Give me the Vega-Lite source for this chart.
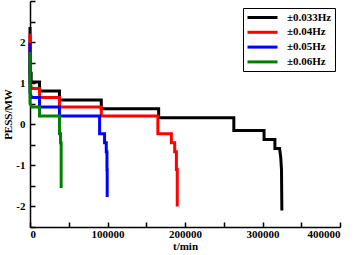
{
  "$schema": "https://vega.github.io/schema/vega-lite/v6.json",
  "width": 310,
  "height": 226,
  "autosize": "none",
  "padding": {"left": 30, "top": 1, "right": 18, "bottom": 28},
  "background": "white",
  "config": {
    "view": {"stroke": null},
    "font": "Liberation Serif",
    "axis": {
      "domainColor": "black", "tickColor": "black", "labelColor": "black", "titleColor": "black",
      "labelFont": "Liberation Serif", "titleFont": "Liberation Serif",
      "labelFontSize": 11, "labelFontWeight": "bold", "titleFontSize": 11, "titleFontWeight": "bold",
      "grid": false, "tickSize": -5, "domainWidth": 1.5, "tickWidth": 1.5
    }
  },
  "data": {"values": [
    {"s": "±0.033Hz", "i": 1, "x": 0, "y": 2.37},
    {"s": "±0.033Hz", "i": 2, "x": 0, "y": 1.24},
    {"s": "±0.033Hz", "i": 3, "x": 1500, "y": 1.24},
    {"s": "±0.033Hz", "i": 4, "x": 1500, "y": 1.03},
    {"s": "±0.033Hz", "i": 5, "x": 12300, "y": 1.03},
    {"s": "±0.033Hz", "i": 6, "x": 12300, "y": 0.81},
    {"s": "±0.033Hz", "i": 7, "x": 38000, "y": 0.81},
    {"s": "±0.033Hz", "i": 8, "x": 38000, "y": 0.59},
    {"s": "±0.033Hz", "i": 9, "x": 92000, "y": 0.59},
    {"s": "±0.033Hz", "i": 10, "x": 92000, "y": 0.38},
    {"s": "±0.033Hz", "i": 11, "x": 166000, "y": 0.38},
    {"s": "±0.033Hz", "i": 12, "x": 166000, "y": 0.16},
    {"s": "±0.033Hz", "i": 13, "x": 263000, "y": 0.16},
    {"s": "±0.033Hz", "i": 14, "x": 263000, "y": -0.15},
    {"s": "±0.033Hz", "i": 15, "x": 302000, "y": -0.15},
    {"s": "±0.033Hz", "i": 16, "x": 302000, "y": -0.37},
    {"s": "±0.033Hz", "i": 17, "x": 316000, "y": -0.37},
    {"s": "±0.033Hz", "i": 18, "x": 316000, "y": -0.59},
    {"s": "±0.033Hz", "i": 19, "x": 322000, "y": -0.59},
    {"s": "±0.033Hz", "i": 20, "x": 323500, "y": -0.8},
    {"s": "±0.033Hz", "i": 21, "x": 324500, "y": -1.1},
    {"s": "±0.033Hz", "i": 22, "x": 325000, "y": -2.1},
    {"s": "±0.04Hz", "i": 1, "x": 0, "y": 2.21},
    {"s": "±0.04Hz", "i": 2, "x": 0, "y": 1.0},
    {"s": "±0.04Hz", "i": 3, "x": 2400, "y": 0.87},
    {"s": "±0.04Hz", "i": 4, "x": 12300, "y": 0.87},
    {"s": "±0.04Hz", "i": 5, "x": 12300, "y": 0.65},
    {"s": "±0.04Hz", "i": 6, "x": 38000, "y": 0.65},
    {"s": "±0.04Hz", "i": 7, "x": 38000, "y": 0.42},
    {"s": "±0.04Hz", "i": 8, "x": 92000, "y": 0.42},
    {"s": "±0.04Hz", "i": 9, "x": 92000, "y": 0.2},
    {"s": "±0.04Hz", "i": 10, "x": 165000, "y": 0.2},
    {"s": "±0.04Hz", "i": 11, "x": 165000, "y": -0.23},
    {"s": "±0.04Hz", "i": 12, "x": 182400, "y": -0.23},
    {"s": "±0.04Hz", "i": 13, "x": 182400, "y": -0.45},
    {"s": "±0.04Hz", "i": 14, "x": 186700, "y": -0.45},
    {"s": "±0.04Hz", "i": 15, "x": 186700, "y": -0.67},
    {"s": "±0.04Hz", "i": 16, "x": 188900, "y": -0.67},
    {"s": "±0.04Hz", "i": 17, "x": 188900, "y": -1.1},
    {"s": "±0.04Hz", "i": 18, "x": 190000, "y": -1.1},
    {"s": "±0.04Hz", "i": 19, "x": 190000, "y": -2.0},
    {"s": "±0.05Hz", "i": 1, "x": 0, "y": 1.98},
    {"s": "±0.05Hz", "i": 2, "x": 0, "y": 0.75},
    {"s": "±0.05Hz", "i": 3, "x": 2400, "y": 0.65},
    {"s": "±0.05Hz", "i": 4, "x": 12300, "y": 0.65},
    {"s": "±0.05Hz", "i": 5, "x": 12300, "y": 0.42},
    {"s": "±0.05Hz", "i": 6, "x": 38000, "y": 0.42},
    {"s": "±0.05Hz", "i": 7, "x": 38000, "y": 0.2},
    {"s": "±0.05Hz", "i": 8, "x": 89800, "y": 0.2},
    {"s": "±0.05Hz", "i": 9, "x": 89800, "y": -0.23},
    {"s": "±0.05Hz", "i": 10, "x": 96200, "y": -0.23},
    {"s": "±0.05Hz", "i": 11, "x": 96200, "y": -0.45},
    {"s": "±0.05Hz", "i": 12, "x": 98400, "y": -0.45},
    {"s": "±0.05Hz", "i": 13, "x": 98400, "y": -0.67},
    {"s": "±0.05Hz", "i": 14, "x": 99300, "y": -0.67},
    {"s": "±0.05Hz", "i": 15, "x": 99300, "y": -1.1},
    {"s": "±0.05Hz", "i": 16, "x": 99600, "y": -1.1},
    {"s": "±0.05Hz", "i": 17, "x": 99600, "y": -1.77},
    {"s": "±0.06Hz", "i": 1, "x": 0, "y": 1.76},
    {"s": "±0.06Hz", "i": 2, "x": 0, "y": 0.5},
    {"s": "±0.06Hz", "i": 3, "x": 2400, "y": 0.42},
    {"s": "±0.06Hz", "i": 4, "x": 12300, "y": 0.42},
    {"s": "±0.06Hz", "i": 5, "x": 12300, "y": 0.2},
    {"s": "±0.06Hz", "i": 6, "x": 38000, "y": 0.2},
    {"s": "±0.06Hz", "i": 7, "x": 38000, "y": -0.23},
    {"s": "±0.06Hz", "i": 8, "x": 39400, "y": -0.23},
    {"s": "±0.06Hz", "i": 9, "x": 39400, "y": -0.45},
    {"s": "±0.06Hz", "i": 10, "x": 40200, "y": -0.45},
    {"s": "±0.06Hz", "i": 11, "x": 40200, "y": -1.55}
  ]},
  "mark": {"type": "line", "strokeWidth": 3, "strokeJoin": "miter"},
  "encoding": {
    "x": {
      "field": "x", "type": "quantitative",
      "scale": {"domain": [0, 400000], "nice": false},
      "axis": {
        "title": "t/min",
        "values": [0, 50000, 100000, 150000, 200000, 250000, 300000, 350000, 400000],
        "labelExpr": "datum.value % 100000 === 0 ? '' + datum.value : ''",
        "labelPadding": 6, "titlePadding": 1
      }
    },
    "y": {
      "field": "y", "type": "quantitative",
      "scale": {"domain": [-2.5, 3], "nice": false, "zero": false},
      "axis": {
        "title": "PESS/MW",
        "values": [-2.5, -2, -1.5, -1, -0.5, 0, 0.5, 1, 1.5, 2, 2.5, 3],
        "labelExpr": "(datum.value % 1 === 0 && datum.value < 3) ? '' + datum.value : ''",
        "labelPadding": 10, "titlePadding": 2
      }
    },
    "color": {
      "field": "s", "type": "nominal",
      "scale": {"domain": ["±0.033Hz", "±0.04Hz", "±0.05Hz", "±0.06Hz"], "range": ["#000000", "#ff0000", "#0000ff", "#008000"]},
      "legend": {
        "orient": "none", "legendX": 213, "legendY": 7, "title": null,
        "symbolType": "M-3,0H3", "symbolSize": 100, "symbolStrokeWidth": 3, "symbolOffset": 10,
        "labelFont": "Liberation Serif", "labelFontSize": 11, "labelFontWeight": "bold", "labelColor": "black",
        "labelExpr": "datum.label + '\u00a0\u00a0'",
        "labelOffset": 18, "strokeColor": "black", "fillColor": "white", "padding": 3, "rowPadding": 1.8
      }
    },
    "order": {"field": "i"}
  }
}
